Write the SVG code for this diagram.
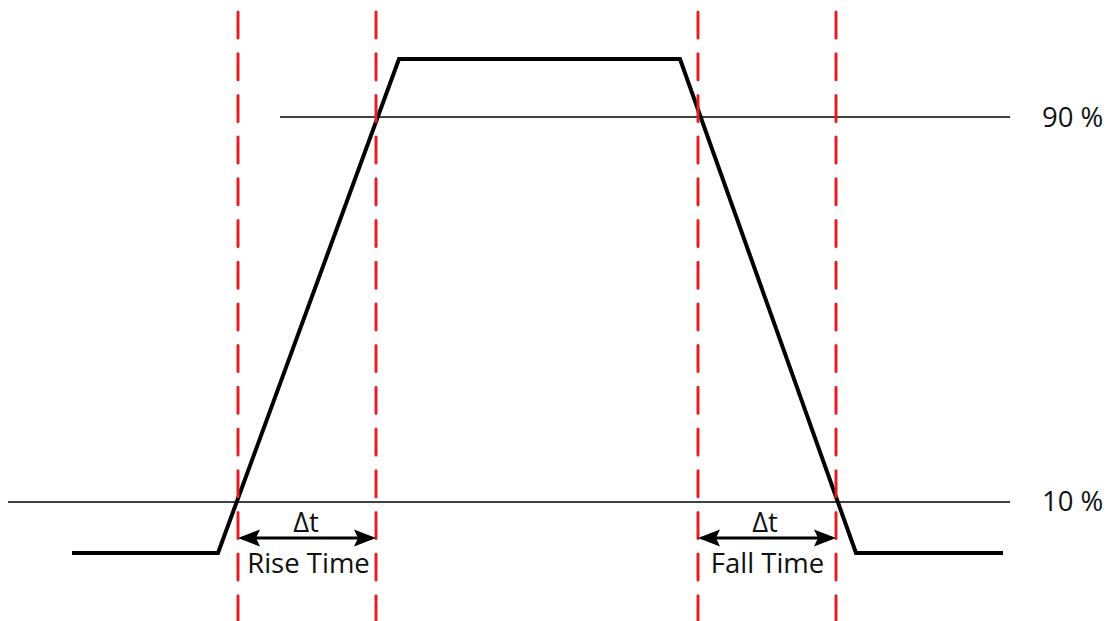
<svg xmlns="http://www.w3.org/2000/svg" width="1111" height="621" viewBox="0 0 1111 621">
  <style>
    .guide { stroke: #e31e24; stroke-width: 3; stroke-dasharray: 26 15.7; stroke-linecap: round; fill: none; }
    .level { stroke: #000; stroke-width: 1.5; fill: none; }
    .signal { stroke: #000; stroke-width: 4; fill: none; stroke-linejoin: miter; }
    .dim { stroke: #000; stroke-width: 3; fill: none; }
    .lbl { font-family: "Open Sans", "Noto Sans", "DejaVu Sans", sans-serif; font-size: 27.5px; fill: #111; }
    .mid { text-anchor: middle; }
  </style>
  <defs>
    <marker id="arr" markerUnits="userSpaceOnUse" viewBox="0 -9 22 18" refX="18" refY="0" markerWidth="22" markerHeight="18" orient="auto-start-reverse">
      <path d="M0,-8.5 L22,0 L0,8.5 L4,0 Z" fill="#000"/>
    </marker>
  </defs>
  <rect width="1111" height="621" fill="#fff"/>

  <g id="levels">
    <line class="level" x1="280" y1="117" x2="1010" y2="117"/>
    <line class="level" x1="8" y1="502" x2="1010" y2="502"/>
  </g>

  <g id="signal">
    <polyline class="signal" points="72,553 218,553 399,59 680,59 856,553 1003,553"/>
  </g>

  <g id="guides">
    <line class="guide" x1="238" y1="12" x2="238" y2="621"/>
    <line class="guide" x1="376" y1="12" x2="376" y2="621"/>
    <line class="guide" x1="698" y1="12" x2="698" y2="621"/>
    <line class="guide" x1="836" y1="12" x2="836" y2="621"/>
  </g>

  <g id="connectors">
    <line class="dim" x1="242" y1="538" x2="372" y2="538" marker-start="url(#arr)" marker-end="url(#arr)"/>
    <line class="dim" x1="702" y1="538" x2="832" y2="538" marker-start="url(#arr)" marker-end="url(#arr)"/>
  </g>

  <g id="rise-label">
    <text class="lbl mid" x="306" y="532">Δt</text>
    <text class="lbl mid" x="308.5" y="573">Rise Time</text>
  </g>
  <g id="fall-label">
    <text class="lbl mid" x="765" y="532">Δt</text>
    <text class="lbl mid" x="767.5" y="573">Fall Time</text>
  </g>
  <g id="level-labels">
    <text class="lbl" x="1042" y="127">90 %</text>
    <text class="lbl" x="1042" y="511">10 %</text>
  </g>
</svg>
